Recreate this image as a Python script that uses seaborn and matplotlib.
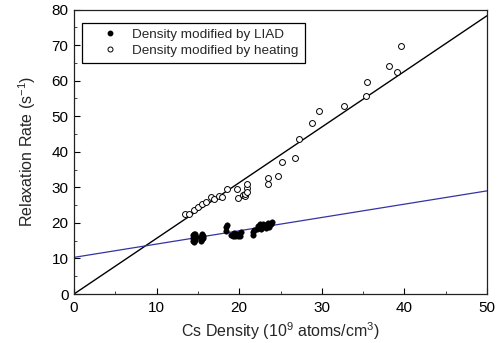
import numpy as np
import pandas as pd
import matplotlib
matplotlib.use("Agg")
import matplotlib.pyplot as plt
from matplotlib.lines import Line2D
from matplotlib.ticker import MultipleLocator
import seaborn as sns

# Relaxation rate measured with density changed by light-induced desorption (LIAD)
liad_density = [14.4, 14.4, 14.4, 14.5, 14.5, 14.5, 14.5, 14.6, 14.6, 14.7, 14.7, 14.8,
                15.4, 15.4, 15.5, 15.5, 15.5, 15.6, 15.6,
                18.4, 18.4, 18.5,
                19.0, 19.2, 19.4, 19.5, 19.7, 19.8, 20.0, 20.1, 20.2,
                21.7, 21.7, 21.8,
                22.2, 22.3, 22.5, 22.6, 22.8, 22.9, 23.0, 23.2, 23.3, 23.5, 23.6, 23.8, 24.0]
liad_rate = [15.0, 15.8, 16.6, 14.7, 15.4, 16.2, 17.0, 15.2, 16.4, 15.6, 16.8, 16.0,
             14.9, 16.0, 15.4, 16.6, 17.0, 15.8, 16.4,
             17.8, 18.8, 19.4,
             16.6, 16.2, 17.2, 16.4, 17.0, 16.2, 16.8, 16.4, 17.4,
             16.6, 17.4, 18.0,
             18.4, 19.2, 19.6, 18.4, 19.0, 19.8, 19.2, 18.6, 19.4, 20.0, 18.8, 19.6, 20.2]

# Relaxation rate measured with density changed by heating the cell
heat_density = [13.4, 13.9, 14.5, 15.0, 15.5, 16.0, 16.6, 17.0, 17.6, 17.9, 18.5,
                19.7, 19.9, 20.4, 20.7, 20.7, 20.9, 20.9, 21.0,
                23.5, 23.5, 24.7, 25.2, 26.8, 27.2, 28.8, 29.7, 32.7,
                35.4, 35.5, 38.1, 39.1, 39.6]
heat_rate = [22.5, 22.5, 23.6, 24.5, 25.3, 25.8, 27.3, 26.8, 27.5, 27.3, 29.4,
             29.6, 27.0, 27.7, 27.5, 28.1, 29.8, 30.9, 28.7,
             32.6, 31.0, 33.1, 37.2, 38.3, 43.6, 48.0, 51.4, 53.0,
             55.7, 59.6, 64.2, 62.5, 69.6]

# Linear fits: rate = intercept + slope * density
heat_fit = (0.0, 1.565)
liad_fit = (10.3, 0.374)
fit_x = [0.0, 50.0]

x_ticks = [0, 10, 20, 30, 40, 50]
y_ticks = [0, 10, 20, 30, 40, 50, 60, 70, 80]

sns.set_style("ticks")
plt.rcParams["font.family"] = ["Liberation Sans", "DejaVu Sans"]
plt.rcParams["mathtext.default"] = "regular"

fig = plt.figure(figsize=(5.02, 3.43), dpi=100)
ax = fig.add_axes([74 / 502, 1 - 294 / 343, 413 / 502, 284.5 / 343])

df_liad = pd.DataFrame({"density": liad_density, "rate": liad_rate})
df_heat = pd.DataFrame({"density": heat_density, "rate": heat_rate})

fit_df = pd.DataFrame({
    "x": fit_x,
    "heat": [heat_fit[0] + heat_fit[1] * v for v in fit_x],
    "liad": [liad_fit[0] + liad_fit[1] * v for v in fit_x],
})
sns.lineplot(data=fit_df, x="x", y="heat", ax=ax, color="black", lw=1.0, zorder=2)
sns.lineplot(data=fit_df, x="x", y="liad", ax=ax, color="#3434a4", lw=0.9, zorder=2)

sns.scatterplot(data=df_heat, x="density", y="rate", ax=ax, marker="o", s=18,
                facecolor="white", edgecolor="black", linewidth=0.7, zorder=3)
sns.scatterplot(data=df_liad, x="density", y="rate", ax=ax, marker="o", s=16,
                color="black", edgecolor="black", linewidth=0.3, zorder=3)

ax.set_xlim(0, 50)
ax.set_ylim(0, 80)
ax.set_xticks(x_ticks)
ax.set_yticks(y_ticks)
ax.xaxis.set_minor_locator(MultipleLocator(5))
ax.yaxis.set_minor_locator(MultipleLocator(5))
ax.tick_params(which="major", direction="in", length=4.5, width=0.8,
               labelsize=11, colors="black")
ax.tick_params(axis="x", which="major", pad=5)
ax.tick_params(axis="y", which="major", pad=4)
ax.tick_params(which="minor", direction="in", length=2.5, width=0.6)
for sp in ax.spines.values():
    sp.set_linewidth(0.9)
    sp.set_color("#222222")

ax.set_xlabel("Cs Density (10$^{9}$ atoms/cm$^{3}$)", fontsize=11.5)
ax.set_ylabel("Relaxation Rate (s$^{-1}$)", fontsize=11.5)
ax.yaxis.set_label_coords(-0.088, 0.5)

handles = [
    Line2D([], [], ls="none", marker="o", markersize=3.2, color="black"),
    Line2D([], [], ls="none", marker="o", markersize=3.6, markerfacecolor="white",
           markeredgecolor="black", markeredgewidth=0.7),
]
leg = ax.legend(handles, ["Density modified by LIAD", "Density modified by heating"],
                loc="upper left", bbox_to_anchor=(0.0186, 0.9536), borderaxespad=0,
                fontsize=9.7, frameon=True, fancybox=False, edgecolor="black",
                framealpha=1, handlelength=3.3, handletextpad=0.0, borderpad=0.45,
                labelspacing=0.25)
leg.get_frame().set_linewidth(0.9)

fig.savefig("out.png", dpi=100)
